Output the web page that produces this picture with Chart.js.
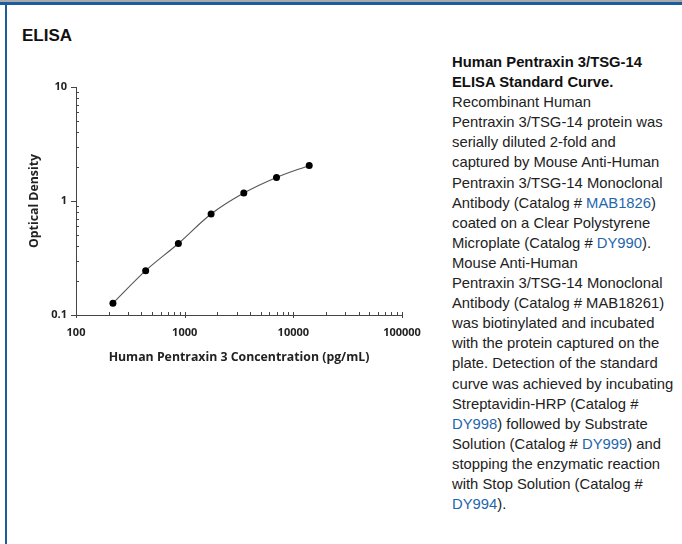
<!DOCTYPE html>
<html>
<head>
<meta charset="utf-8">
<script src="https://cdn.jsdelivr.net/npm/chart.js@4/dist/chart.umd.min.js"></script>
<style>
  html,body{margin:0;padding:0;background:#fff;width:682px;height:544px;overflow:hidden;position:relative;}
  #topgray{position:absolute;left:0;top:0;width:682px;height:2px;background:#a7a9ac;}
  #topblue{position:absolute;left:0;top:2px;width:682px;height:3px;background:#1c5c9c;}
  #leftblue{position:absolute;left:5px;top:5px;width:2px;height:539px;background:#1c5c9c;}
  #title{position:absolute;left:22px;top:26px;font:bold 17px "Liberation Sans",Arial,sans-serif;color:#111;}
  #desc{position:absolute;left:452px;top:52px;font:14.8px/20.1px "Liberation Sans",Arial,sans-serif;color:#222;white-space:nowrap;}
  #desc b{color:#111;}
  #desc a{color:#1f66ad;text-decoration:none;}
  #wrap{position:absolute;left:0;top:60px;width:440px;height:320px;}
</style>
</head>
<body>
<div id="topgray"></div><div id="topblue"></div><div id="leftblue"></div>
<div id="title">ELISA</div>
<div id="wrap"><canvas id="c" width="440" height="320"></canvas></div>
<div id="desc"><b>Human Pentraxin 3/TSG-14</b><br><b>ELISA Standard Curve.</b><br>Recombinant Human<br>Pentraxin 3/TSG-14 protein was<br>serially diluted 2-fold and<br>captured by Mouse Anti-Human<br>Pentraxin 3/TSG-14 Monoclonal<br>Antibody (Catalog # <a>MAB1826</a>)<br>coated on a Clear Polystyrene<br>Microplate (Catalog # <a>DY990</a>).<br>Mouse Anti-Human<br>Pentraxin 3/TSG-14 Monoclonal<br>Antibody (Catalog # MAB18261)<br>was biotinylated and incubated<br>with the protein captured on the<br>plate. Detection of the standard<br>curve was achieved by incubating<br>Streptavidin-HRP (Catalog #<br><a>DY998</a>) followed by Substrate<br>Solution (Catalog # <a>DY999</a>) and<br>stopping the enzymatic reaction<br>with Stop Solution (Catalog #<br><a>DY994</a>).</div>
<script>
// Data
const concentrations = [218.75, 437.5, 875, 1750, 3500, 7000, 14000];
const opticalDensity = [0.127, 0.245, 0.424, 0.769, 1.175, 1.61, 2.05];
const xTicks = [100, 1000, 10000, 100000];
const yTicks = [0.1, 1, 10];
const xTitle = 'Human Pentraxin 3 Concentration (pg/mL)';
const yTitle = 'Optical Density';

const points = concentrations.map((c, i) => ({x: c, y: opticalDensity[i]}));

const tickFont = {family: '"Open Sans", sans-serif', size: 11, weight: '700'};
const titleFont = {family: '"Open Sans", sans-serif', size: 12.3, weight: '700'};

const logTicksPlugin = {
  id: 'logTicks',
  afterDraw(chart) {
    const ctx = chart.ctx;
    const xs = chart.scales.x, ys = chart.scales.y;
    ctx.save();
    ctx.strokeStyle = '#444';
    ctx.lineWidth = 1;
    ctx.beginPath();
    const yb = ys.bottom;
    for (let d = Math.round(Math.log10(xs.min)); d < Math.round(Math.log10(xs.max)); d++) {
      for (let m = 2; m <= 9; m++) {
        const px = Math.round(xs.getPixelForValue(m * Math.pow(10, d))) + 0.5;
        ctx.moveTo(px, yb); ctx.lineTo(px, yb - 3);
      }
    }
    xTicks.forEach(v => {
      const px = Math.round(xs.getPixelForValue(v)) + 0.5;
      ctx.moveTo(px, yb - 3); ctx.lineTo(px, yb + 3);
    });
    const xl = xs.left;
    for (let d = Math.round(Math.log10(ys.min)); d < Math.round(Math.log10(ys.max)); d++) {
      for (let m = 2; m <= 9; m++) {
        const py = Math.round(ys.getPixelForValue(m * Math.pow(10, d))) + 0.5;
        ctx.moveTo(xl, py); ctx.lineTo(xl + 3, py);
      }
    }
    yTicks.forEach(v => {
      const py = Math.round(ys.getPixelForValue(v)) + 0.5;
      ctx.moveTo(xl - 5, py); ctx.lineTo(xl, py);
    });
    ctx.stroke();
    ctx.restore();
  }
};

new Chart(document.getElementById('c'), {
  type: 'scatter',
  data: {
    datasets: [{
      data: points,
      showLine: true,
      borderColor: '#555',
      borderWidth: 1.1,
      cubicInterpolationMode: 'monotone',
      pointRadius: 3.5,
      pointBackgroundColor: '#000',
      pointBorderColor: '#000',
      pointBorderWidth: 0
    }]
  },
  options: {
    responsive: false,
    animation: false,
    layout: {padding: {left: 0, top: 27, right: 38, bottom: 0}},
    plugins: {legend: {display: false}, tooltip: {enabled: false}},
    scales: {
      x: {
        type: 'logarithmic',
        min: 100, max: 100000,
        afterBuildTicks: s => { s.ticks = xTicks.map(v => ({value: v})); },
        afterFit: s => { s.height = 65; },
        grid: {display: true, drawOnChartArea: false, drawTicks: false},
        border: {display: true, color: '#444', width: 1},
        ticks: {
          color: '#222', font: tickFont, padding: 11, maxRotation: 0, autoSkip: false,
          callback: v => String(v)
        },
        title: {display: true, text: xTitle, color: '#222', font: titleFont, padding: {top: 0, bottom: 15}}
      },
      y: {
        type: 'logarithmic',
        min: 0.1, max: 10,
        afterBuildTicks: s => { s.ticks = yTicks.map(v => ({value: v})); },
        afterFit: s => { s.width = 76; },
        grid: {display: true, drawOnChartArea: false, drawTicks: false},
        border: {display: true, color: '#444', width: 1},
        ticks: {
          color: '#222', font: tickFont, padding: 9, autoSkip: false,
          callback: v => String(v)
        },
        title: {display: true, text: yTitle, color: '#222', font: titleFont, padding: {top: 27, bottom: 0}}
      }
    }
  },
  plugins: [logTicksPlugin]
});
</script>
</body>
</html>
